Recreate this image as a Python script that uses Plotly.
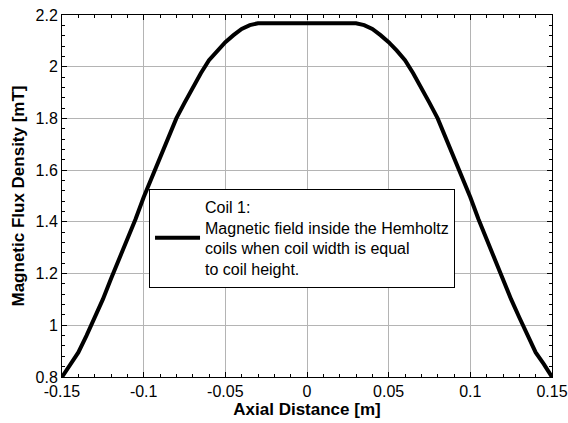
import plotly.graph_objects as go

# Left half of the curve; right half mirrors it
x_left = [-0.150, -0.145, -0.140, -0.135, -0.130, -0.125, -0.120, -0.115, -0.110, -0.105,
          -0.100, -0.095, -0.090, -0.085, -0.080, -0.075, -0.070, -0.065, -0.060, -0.055,
          -0.050, -0.045, -0.040, -0.035, -0.030, -0.025, -0.020, -0.010]
b_left = [0.800, 0.850, 0.895, 0.960, 1.030, 1.100, 1.180, 1.255, 1.330, 1.410,
          1.495, 1.570, 1.650, 1.725, 1.800, 1.860, 1.920, 1.975, 2.025, 2.062,
          2.095, 2.122, 2.146, 2.161, 2.168, 2.168, 2.168, 2.168]
x_center = [0.0]
b_center = [2.168]

x_vals = x_left + x_center + [-v for v in reversed(x_left)]
b_vals = b_left + b_center + list(reversed(b_left))

x_ticks = [-0.15, -0.1, -0.05, 0, 0.05, 0.1, 0.15]
x_tick_text = ["-0.15", "-0.1", "-0.05", "0", "0.05", "0.1", "0.15"]
y_ticks = [0.8, 1.0, 1.2, 1.4, 1.6, 1.8, 2.0, 2.2]
y_tick_text = ["0.8", "1", "1.2", "1.4", "1.6", "1.8", "2", "2.2"]

legend_name = ("Coil 1:<br>Magnetic field inside the Hemholtz<br>"
               "coils when coil width is equal<br>to coil height.")

FONT = "Liberation Sans, Arial"

fig = go.Figure()
fig.add_trace(go.Scatter(x=x_vals, y=b_vals, mode="lines", name=legend_name,
                         line=dict(color="black", width=4), showlegend=True,
                         hoverinfo="skip"))

axis_common = dict(
    showline=True, linecolor="black", linewidth=1, mirror="allticks",
    ticks="inside", ticklen=5, tickcolor="black",
    showgrid=True, gridcolor="#b4b4b4", gridwidth=1,
    zeroline=False, automargin=False, ticklabeloverflow="allow",
    tickfont=dict(family=FONT, size=16, color="black"),
)

fig.update_xaxes(**axis_common, range=[-0.15, 0.15], tickvals=x_ticks, ticktext=x_tick_text,
                 minor=dict(dtick=0.01, ticks="inside", ticklen=3, tickcolor="black", showgrid=False),
                 title=dict(text="<b>Axial Distance [m]</b>", standoff=2,
                            font=dict(family=FONT, size=17, color="black")))
fig.update_yaxes(**axis_common, range=[0.8, 2.2], tickvals=y_ticks, ticktext=y_tick_text,
                 minor=dict(dtick=0.04, tick0=0.8, ticks="inside", ticklen=3, tickcolor="black", showgrid=False),
                 title=dict(text="<b>Magnetic Flux Density [mT]</b>", standoff=6,
                            font=dict(family=FONT, size=17, color="black")))

fig.update_layout(
    width=568, height=423,
    margin=dict(l=62, r=16, t=15, b=46),
    paper_bgcolor="white", plot_bgcolor="white",
    legend=dict(x=0.1776, y=0.52, xanchor="left", yanchor="top",
                bgcolor="white", bordercolor="black", borderwidth=1,
                font=dict(family=FONT, size=16, color="black"),
                itemwidth=45),
)

fig.write_html("out.html",
               config={"displayModeBar": False},
               post_script="document.body.style.margin='0';document.body.style.overflow='hidden';")
